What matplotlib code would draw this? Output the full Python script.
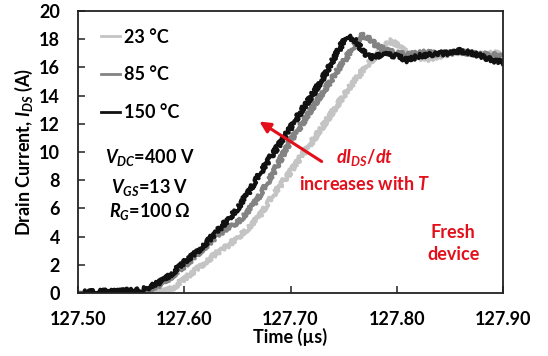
import matplotlib
matplotlib.use("Agg")
import matplotlib.pyplot as plt

plt.rcParams['font.family'] = ['Lato', 'DejaVu Sans']
plt.rcParams['font.weight'] = 'bold'
plt.rcParams['axes.labelweight'] = 'bold'
plt.rcParams['mathtext.fontset'] = 'custom'
plt.rcParams['mathtext.it'] = 'Lato:bold:italic'
plt.rcParams['mathtext.rm'] = 'Lato:bold'
plt.rcParams['mathtext.bf'] = 'Lato:bold'

# time axis (us) and drain current (A)
t_23 = [127.50, 127.52, 127.54, 127.56, 127.58, 127.59, 127.60, 127.61, 127.62, 127.63,
        127.64, 127.65, 127.66, 127.67, 127.68, 127.69, 127.70, 127.71, 127.72, 127.73,
        127.74, 127.75, 127.76, 127.77, 127.78, 127.79, 127.795, 127.80, 127.81, 127.82,
        127.83, 127.84, 127.85, 127.86, 127.87, 127.88, 127.89, 127.90]
i_23 = [0.1, 0.0, 0.1, 0.0, 0.1, 0.4, 1.0, 1.6, 2.2, 2.8,
        3.3, 3.9, 4.6, 5.4, 6.5, 7.6, 8.6, 9.7, 10.7, 11.8,
        12.9, 14.0, 15.0, 16.0, 16.8, 17.6, 17.9, 17.6, 17.0, 16.7,
        16.6, 16.8, 17.0, 17.1, 17.0, 16.9, 17.0, 17.0]

t_85 = [127.50, 127.52, 127.54, 127.56, 127.57, 127.58, 127.59, 127.60, 127.61, 127.62,
        127.63, 127.64, 127.65, 127.66, 127.67, 127.68, 127.69, 127.70, 127.71, 127.72,
        127.73, 127.74, 127.75, 127.76, 127.767, 127.775, 127.78, 127.79, 127.80, 127.81,
        127.82, 127.83, 127.84, 127.85, 127.86, 127.87, 127.88, 127.89, 127.90]
i_85 = [0.0, 0.1, 0.0, 0.1, 0.3, 0.7, 1.3, 1.9, 2.6, 3.3,
        4.0, 4.6, 5.0, 5.8, 6.8, 8.0, 9.4, 10.8, 11.9, 13.1,
        14.2, 15.3, 16.4, 17.6, 18.3, 18.0, 17.6, 17.2, 17.0, 16.9,
        17.0, 17.1, 16.9, 17.0, 17.1, 17.0, 16.9, 16.9, 16.8]

t_150 = [127.50, 127.52, 127.54, 127.55, 127.56, 127.57, 127.58, 127.59, 127.60, 127.61,
         127.62, 127.63, 127.64, 127.65, 127.66, 127.67, 127.68, 127.69, 127.70, 127.71,
         127.72, 127.73, 127.74, 127.75, 127.753, 127.76, 127.765, 127.77, 127.775, 127.78,
         127.79, 127.80, 127.81, 127.82, 127.83, 127.84, 127.85, 127.86, 127.87, 127.88,
         127.89, 127.90]
i_150 = [0.0, 0.1, 0.1, 0.2, 0.2, 0.5, 0.9, 1.5, 2.2, 2.8,
         3.5, 4.3, 5.1, 6.0, 7.1, 8.3, 9.5, 10.6, 11.7, 12.9,
         14.0, 15.2, 16.5, 17.9, 18.2, 18.0, 17.5, 17.0, 16.7, 16.8,
         16.9, 16.8, 16.5, 16.8, 16.9, 17.0, 17.0, 17.2, 17.0, 16.8,
         16.5, 16.4]

labels = ['23 °C', '85 °C', '150 °C']
colors = ['#c4c4c4', '#838383', '#111111']
x_ticks = [127.50, 127.60, 127.70, 127.80, 127.90]
y_ticks = [0, 2, 4, 6, 8, 10, 12, 14, 16, 18, 20]
red = '#e3101c'

fig = plt.figure(figsize=(5.48, 3.56), dpi=100)
ax = fig.add_axes([0.1423, 0.177, 0.7757, 0.792])

for t, i, lab, c in zip([t_23, t_85, t_150], [i_23, i_85, i_150], labels, colors):
    ln, = ax.plot(t, i, color=c, lw=2.8, label=lab)
    ln.set_sketch_params(scale=2.2, length=1.5, randomness=4)

ax.set_xlim(127.50, 127.90)
ax.set_ylim(0, 20)
ax.set_xticks(x_ticks)
ax.set_xticklabels(['{:.2f}'.format(v) for v in x_ticks])
ax.set_yticks(y_ticks)
ax.tick_params(direction='in', length=5, width=1.2, pad=13, labelsize=13, color='#333333')
for s in ax.spines.values():
    s.set_linewidth(1.3)
    s.set_color('#222222')

ax.set_xlabel('Time (µs)', fontsize=13, labelpad=0)
ax.set_ylabel('Drain Current, $I_{DS}$ (A)', fontsize=13, labelpad=3)

leg = ax.legend(loc='upper left', bbox_to_anchor=(0.015, 0.995), frameon=False,
                fontsize=13, handlelength=1.1, handletextpad=0.2, labelspacing=1.15)
for h in leg.get_lines():
    h.set_sketch_params(None)
    h.set_linewidth(2.0)

ax.text(127.568, 9.6, '$V_{DC}$=400 V', fontsize=13, ha='center', va='center')
ax.text(127.568, 7.5, '$V_{GS}$=13 V', fontsize=13, ha='center', va='center')
ax.text(127.568, 5.75, '$R_{G}$=100 Ω', fontsize=13, ha='center', va='center')

ax.annotate('', xy=(127.6685, 12.27), xytext=(127.7315, 9.22),
            arrowprops=dict(arrowstyle='-|>', color=red, lw=2.2, mutation_scale=16))
ax.text(127.770, 9.6, '$dI_{DS}/dt$', color=red, fontsize=13, ha='center', va='center')
ax.text(127.770, 7.75, 'increases with $T$', color=red, fontsize=13, ha='center', va='center')
ax.text(127.853, 3.5, 'Fresh\ndevice', color=red, fontsize=13, ha='center', va='center',
        linespacing=1.4)

fig.savefig('out.png', dpi=100)
